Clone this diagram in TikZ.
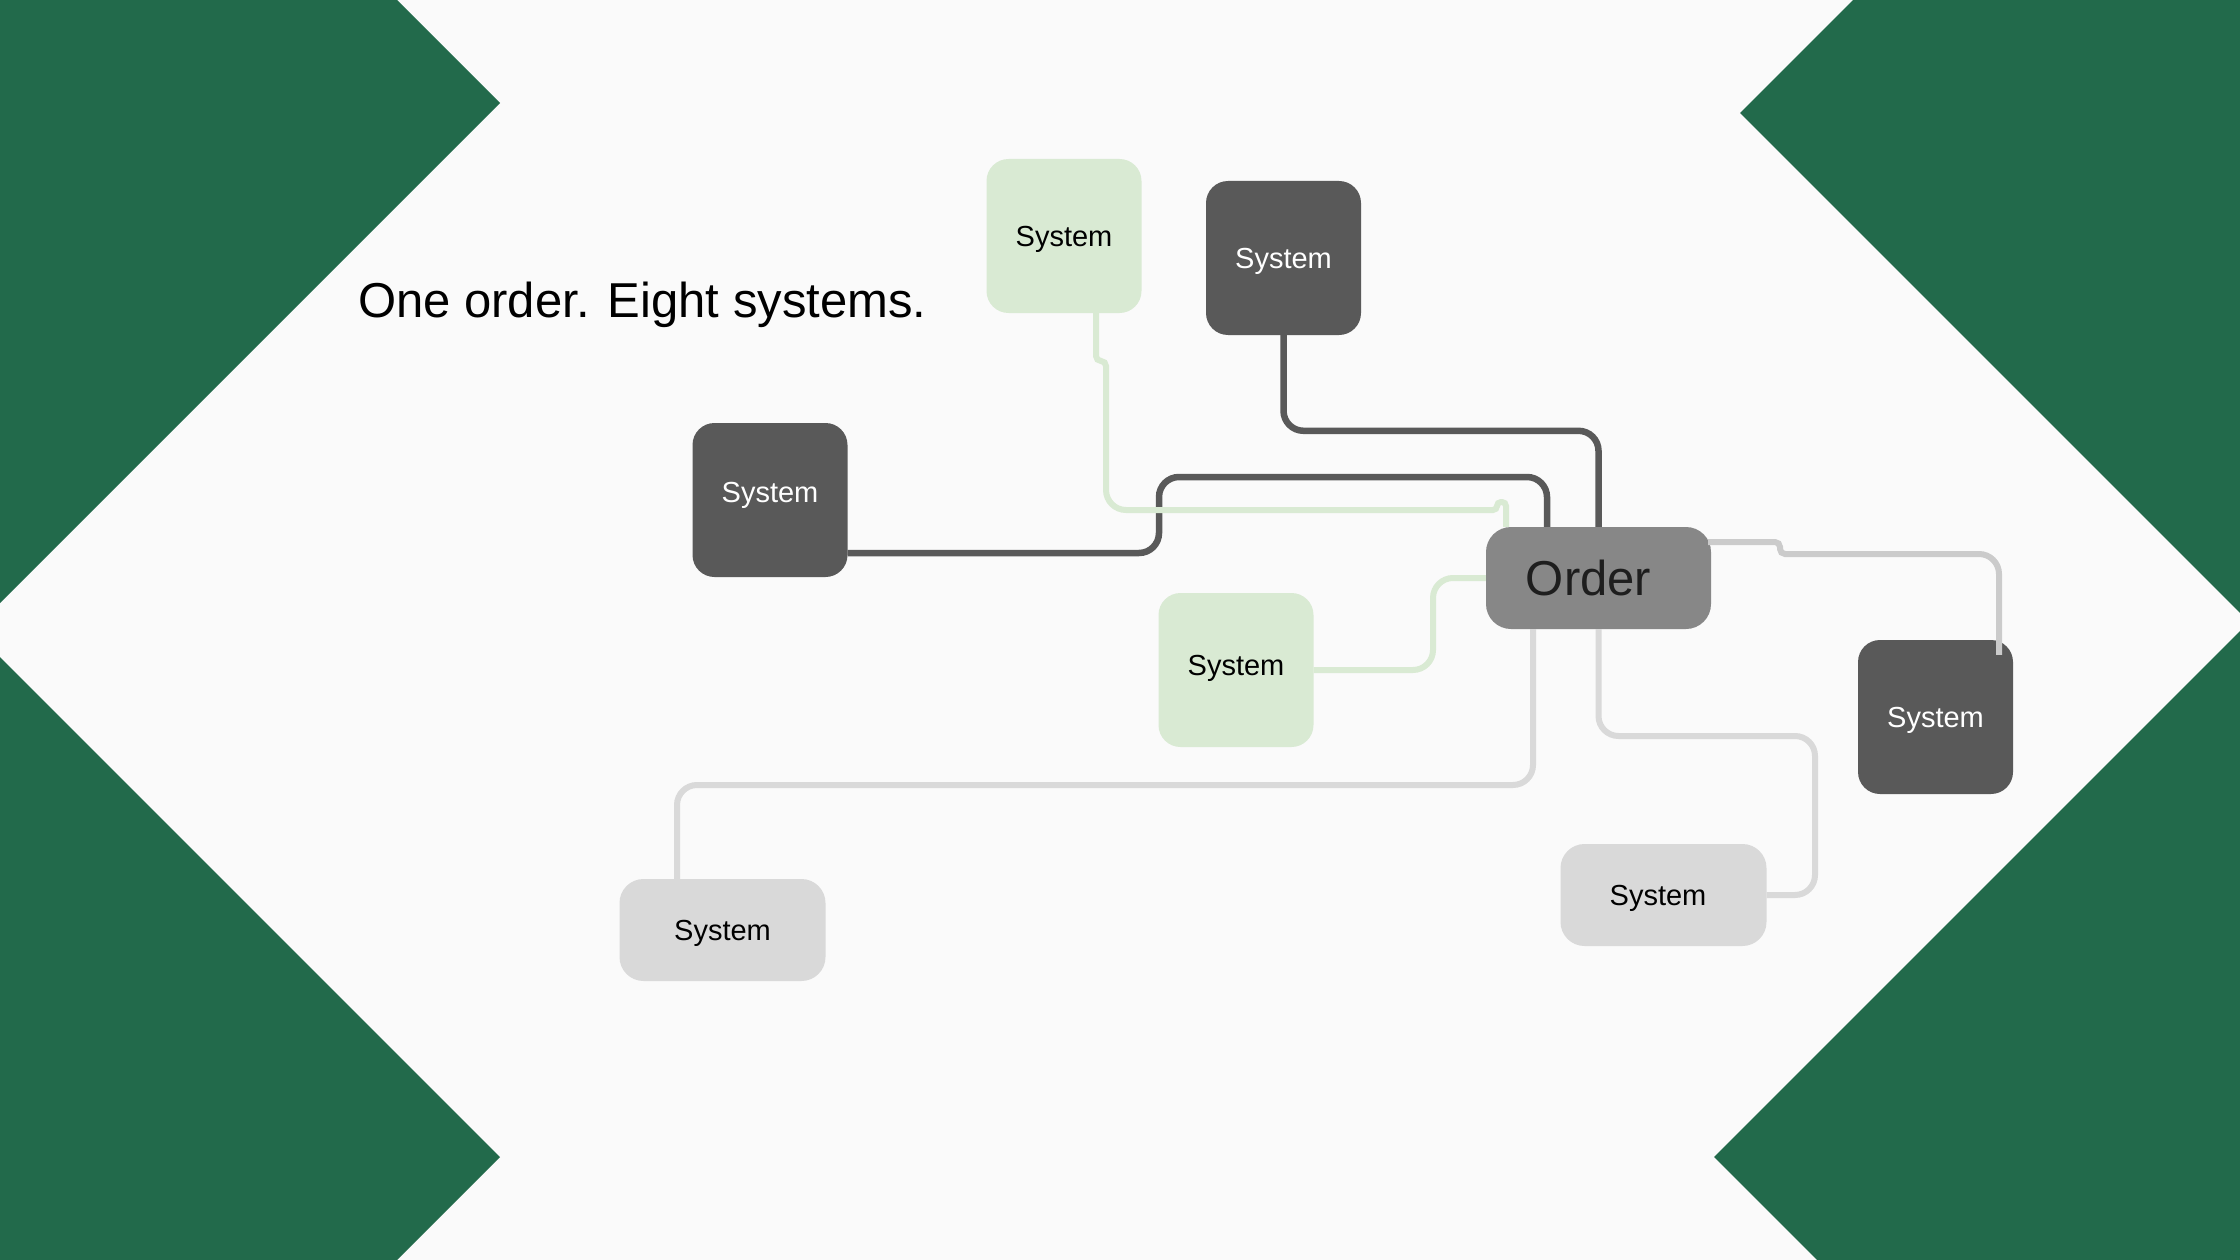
\documentclass[tikz,border=0pt]{standalone}
\usepackage{fontspec}
\setmainfont{Liberation Sans}
\usetikzlibrary{calc}
\definecolor{bgc}{HTML}{FAFAFA}
\definecolor{bandgreen}{RGB}{34,106,75}
\definecolor{lgreen}{HTML}{D9EAD3}
\definecolor{dgray}{HTML}{595959}
\definecolor{ogray}{HTML}{878787}
\definecolor{lgray}{HTML}{D9D9D9}
\definecolor{mgray}{HTML}{CBCBCB}
\definecolor{otext}{HTML}{1E1E1E}
\newcommand\mysysfont{\fontsize{29}{35}\selectfont}
\newcommand\mybigfont{\fontsize{49}{59}\selectfont}
\begin{document}
\begin{tikzpicture}[x=1pt,y=-1pt,
  sysbox/.style={rounded corners=22, minimum width=155, minimum height=154, inner sep=0, text height=21pt, text depth=0pt, font=\mysysfont},
  widebox/.style={rounded corners=24, minimum width=206, minimum height=102, inner sep=0, text height=21pt, text depth=0pt, font=\mysysfont, fill=lgray},
  orderbox/.style={rounded corners=25, minimum width=225, minimum height=102, inner sep=0, font=\mybigfont, fill=ogray, text=otext},
  dline/.style={draw=dgray, line width=6.5, rounded corners=20},
  gline/.style={draw=lgreen, line width=6, rounded corners=20},
  lline/.style={draw=lgray, line width=6, rounded corners=20},
  mline/.style={draw=mgray, line width=6, rounded corners=20}]
\fill[bgc] (0,0) rectangle (2240,1260);
\useasboundingbox (0,0) rectangle (2240,1260);
% green bands
\fill[bandgreen] (0,0) -- (397,0) -- (500,103) -- (0,603) -- cycle;
\fill[bandgreen] (0,657) -- (500,1157) -- (397,1260) -- (0,1260) -- cycle;
\fill[bandgreen] (1853,0) -- (2240,0) -- (2240,613) -- (1740,113) -- cycle;
\fill[bandgreen] (2240,631) -- (2240,1260) -- (1817,1260) -- (1714,1157) -- cycle;
% title
\node[anchor=base west, font=\mybigfont, inner sep=0] (title) at (358,317) {One order. Eight systems.};
% nodes
\node[sysbox, fill=lgreen] (g1) at (1064,236) {System};
\node[sysbox, fill=dgray, text=white] (d1) at (1283.5,258) {System};
\node[sysbox, fill=dgray, text=white] (d2) at (770,500) {\raisebox{8pt}{System}};
\node[sysbox, fill=lgreen] (g2) at (1236,670) {\raisebox{5pt}{System}};
\node[sysbox, fill=dgray, text=white] (d3) at (1935.5,717) {System};
\node[widebox] (l1) at (722.5,930) {System};
\node[widebox] (l2) at (1663.5,895) {\hspace*{-11pt}System};
\node[orderbox] (o) at (1598.5,578) {\hspace*{-20pt}Order};
% connectors
\draw[dline] ($(d2.east)+(0,53)$) -- (1159,553) -- (1159,477) -- (1547,477) -- ($(o.north)+(-51.5,0)$);
\draw[dline] (d1.south) |- ($(o.north)+(0,-96)$) -- (o.north);
\draw[gline] ($(g1.south)+(32,0)$) [rounded corners=5] -- (1096,361) -- (1106,361) [rounded corners=20] -- (1106,510) [rounded corners=4] -- (1497,510) -- (1497,502) -- (1506,502) -- ($(o.north)+(-92.5,0)$);
\draw[gline] (g2.east) -- (1433,670) -- (1433,578) -- (o.west);
\draw[lline] ($(o.south)+(-65.5,0)$) -- (1533,785) -- (677,785) -- ($(l1.north)+(-45.5,0)$);
\draw[lline] (o.south) -- (1598.5,736) -- (1815,736) -- (1815,895) -- (l2.east);
\draw[mline] ($(o.east)+(-3,-36)$) [rounded corners=5] -- (1780,542) -- (1780,554) [rounded corners=20] -- (1999,554) -- ($(d3.north)+(63.5,15)$);
\end{tikzpicture}
\end{document}
